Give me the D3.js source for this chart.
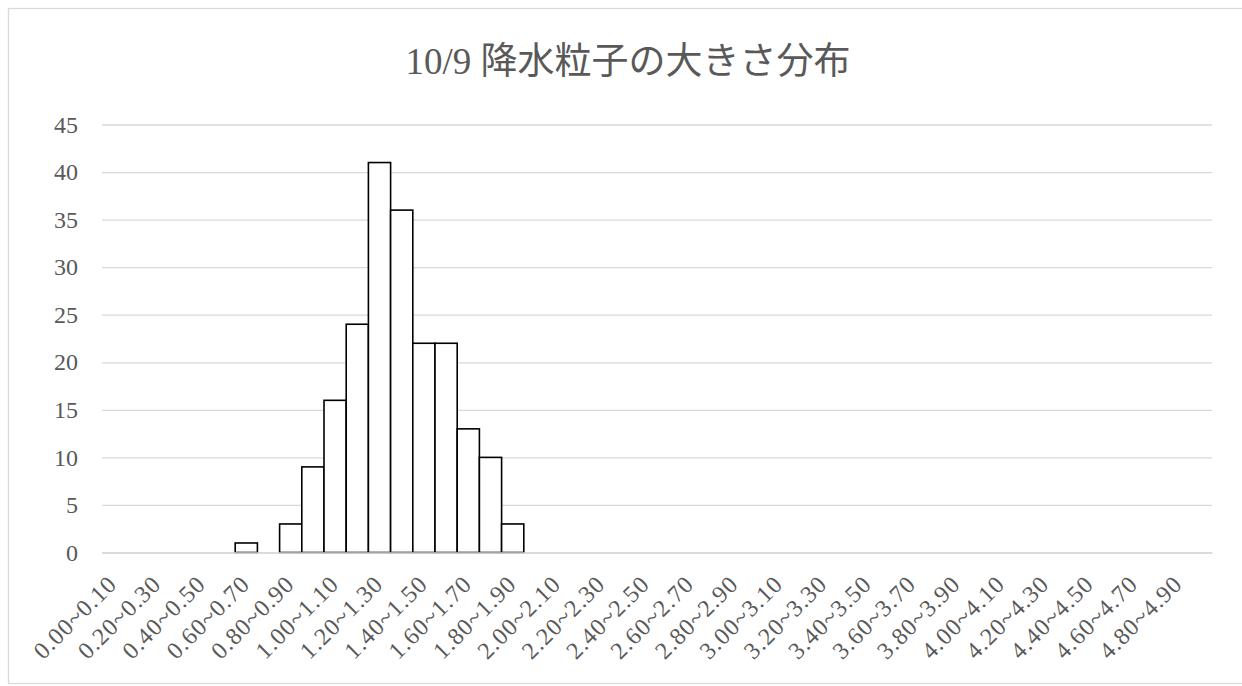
<!DOCTYPE html>
<html>
<head>
<meta charset="utf-8">
<script src="https://cdn.jsdelivr.net/npm/d3@7"></script>
<style>
  html, body { margin: 0; padding: 0; background: #ffffff; }
  svg { display: block; }
  text { font-family: 'Liberation Serif', 'Noto Sans CJK JP', serif; fill: #595959; }
</style>
</head>
<body>
<svg id="chart" width="1242" height="686"></svg>
<script>
// Size classes of precipitation particles (mm)
const categories = [
  "0.00~0.10", "0.10~0.20", "0.20~0.30", "0.30~0.40", "0.40~0.50",
  "0.50~0.60", "0.60~0.70", "0.70~0.80", "0.80~0.90", "0.90~1.00",
  "1.00~1.10", "1.10~1.20", "1.20~1.30", "1.30~1.40", "1.40~1.50",
  "1.50~1.60", "1.60~1.70", "1.70~1.80", "1.80~1.90", "1.90~2.00",
  "2.00~2.10", "2.10~2.20", "2.20~2.30", "2.30~2.40", "2.40~2.50",
  "2.50~2.60", "2.60~2.70", "2.70~2.80", "2.80~2.90", "2.90~3.00",
  "3.00~3.10", "3.10~3.20", "3.20~3.30", "3.30~3.40", "3.40~3.50",
  "3.50~3.60", "3.60~3.70", "3.70~3.80", "3.80~3.90", "3.90~4.00",
  "4.00~4.10", "4.10~4.20", "4.20~4.30", "4.30~4.40", "4.40~4.50",
  "4.50~4.60", "4.60~4.70", "4.70~4.80", "4.80~4.90", "4.90~5.00"
];

// Particle counts per size class
const counts = [
  0, 0, 0, 0, 0, 0, 1, 0, 3, 9,
  16, 24, 41, 36, 22, 22, 13, 10, 3, 0,
  0, 0, 0, 0, 0, 0, 0, 0, 0, 0,
  0, 0, 0, 0, 0, 0, 0, 0, 0, 0,
  0, 0, 0, 0, 0, 0, 0, 0, 0, 0
];

const yTicks = [0, 5, 10, 15, 20, 25, 30, 35, 40, 45];
const titleText = "10/9 降水粒子の大きさ分布";

const svg = d3.select("#chart");
const plot = { left: 102, right: 1212, top: 124.5, bottom: 552.5 };

// Outer chart frame
svg.append("rect")
  .attr("x", 8.5).attr("y", 8.5)
  .attr("width", 1260).attr("height", 675)
  .attr("fill", "#ffffff")
  .attr("stroke", "#d9d9d9").attr("stroke-width", 1.3);

const x = d3.scaleBand()
  .domain(categories)
  .range([plot.left, plot.right])
  .paddingInner(0).paddingOuter(0);

const y = d3.scaleLinear()
  .domain([0, 45])
  .range([plot.bottom, plot.top]);

// Horizontal gridlines and y labels
const yAxis = d3.axisLeft(y)
  .tickValues(yTicks)
  .tickSize(-(plot.right - plot.left))
  .tickPadding(24)
  .tickFormat(d3.format("d"));

const gy = svg.append("g")
  .attr("transform", `translate(${plot.left},0)`)
  .call(yAxis);
gy.select(".domain").remove();
gy.selectAll(".tick line").attr("stroke", "#d9d9d9").attr("stroke-width", 1.3);
gy.selectAll(".tick text")
  .attr("font-size", 24)
  .attr("fill", "#595959")
  .attr("font-family", "'Liberation Serif', serif");

// Bars
svg.append("g")
  .selectAll("rect")
  .data(categories.map((c, i) => ({ c, v: counts[i] })).filter(d => d.v > 0))
  .join("rect")
  .attr("x", d => x(d.c))
  .attr("y", d => y(d.v))
  .attr("width", x.bandwidth())
  .attr("height", d => y(0) - y(d.v))
  .attr("fill", "#ffffff")
  .attr("stroke", "#000000")
  .attr("stroke-width", 1.6);

// Category axis (every other class labelled)
const xAxis = d3.axisBottom(x)
  .tickValues(categories.filter((c, i) => i % 2 === 0))
  .tickSize(0)
  .tickPadding(0);

const gx = svg.append("g")
  .attr("transform", `translate(0,${plot.bottom})`)
  .call(xAxis);
gx.select(".domain").attr("stroke", "#d9d9d9").attr("stroke-width", 1.3);
gx.selectAll(".tick text")
  .attr("font-size", 24)
  .attr("letter-spacing", 1)
  .attr("fill", "#595959")
  .attr("font-family", "'Liberation Serif', serif")
  .attr("text-anchor", "end")
  .attr("dy", null)
  .attr("y", 0)
  .attr("transform", "translate(5,33) rotate(-45)");

// Title
svg.append("text")
  .attr("x", 628)
  .attr("y", 74)
  .attr("text-anchor", "middle")
  .attr("font-size", 37)
  .attr("fill", "#595959")
  .text(titleText);
</script>
</body>
</html>
